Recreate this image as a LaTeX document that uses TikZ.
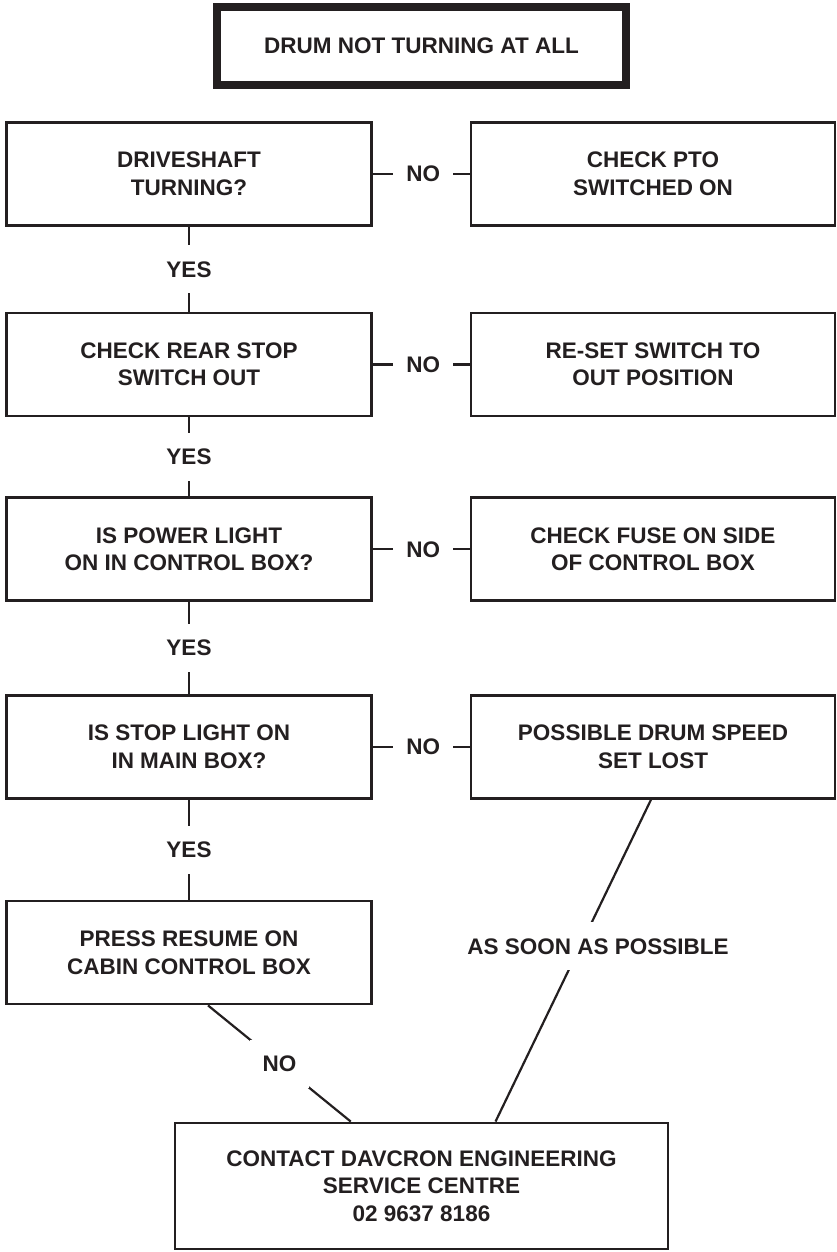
\documentclass[tikz,border=0pt]{standalone}
\usepackage{fontspec}
\setmainfont{Liberation Sans}
\usetikzlibrary{calc}
\definecolor{ink}{RGB}{35,31,32}
\begin{document}
\begin{tikzpicture}[x=1pt,y=-1pt,
  txt/.style={font=\bfseries\fontsize{22.5}{27.5}\selectfont, text=ink},
  box/.style={txt, draw=ink, line width=2.8pt, align=center, inner sep=0pt},
  lbox/.style={box, minimum width=365pt, minimum height=103pt},
  rbox/.style={box, minimum width=364pt, minimum height=103pt},
  lab/.style={txt, fill=white, inner xsep=13pt, inner ysep=16pt, text height=16pt, text depth=0pt},
  conn/.style={draw=ink, line width=2.2pt}]
\useasboundingbox (0,0) rectangle (837,1252);
% title
\node[box, line width=8pt, minimum width=409pt, minimum height=78pt] (top) at (421.5,45.7) {DRUM NOT TURNING AT ALL};
% left column
\node[lbox] (b1) at (189,174) {DRIVESHAFT\\TURNING?};
\node[lbox] (b2) at (189,364.5) {CHECK REAR STOP\\SWITCH OUT};
\node[lbox] (b3) at (189,549) {IS POWER LIGHT\\ON IN CONTROL BOX?};
\node[lbox] (b4) at (189,746.75) {IS STOP LIGHT ON\\IN MAIN BOX?};
\node[lbox] (b5) at (189,952.5) {PRESS RESUME ON\\CABIN CONTROL BOX};
% right column
\node[rbox] (r1) at (653,174) {CHECK PTO\\SWITCHED ON};
\node[rbox] (r2) at (653,364.5) {RE-SET SWITCH TO\\OUT POSITION};
\node[rbox] (r3) at (653,549) {CHECK FUSE ON SIDE\\OF CONTROL BOX};
\node[rbox] (r4) at (653,746.75) {POSSIBLE DRUM SPEED\\SET LOST};
% bottom
\node[box, minimum width=493pt, minimum height=126pt] (bot) at (421.5,1186) {CONTACT DAVCRON ENGINEERING\\SERVICE CENTRE\\02 9637 8186};
% NO connectors
\draw[conn] (b1.east) -- (r1.west) node[lab, pos=0.52] {NO};
\draw[conn] (b2.east) -- (r2.west) node[lab, pos=0.52] {NO};
\draw[conn] (b3.east) -- (r3.west) node[lab, pos=0.52] {NO};
\draw[conn] (b4.east) -- (r4.west) node[lab, pos=0.52] {NO};
% YES connectors
\draw[conn] (b1.south) -- (b2.north) node[lab, midway] {YES};
\draw[conn] (b2.south) -- (b3.north) node[lab, midway] {YES};
\draw[conn] (b3.south) -- (b4.north) node[lab, midway] {YES};
\draw[conn] (b4.south) -- (b5.north) node[lab, midway] {YES};
% diagonals to bottom
\draw[conn] ($(b5.south)+(19,0)$) -- ($(bot.north)+(-70.7,0)$) node[lab, midway] {NO};
\draw[conn] ($(r4.south)+(-2,0)$) -- ($(bot.north)+(74,0)$);
\node[lab] (asap) at (598,946) {AS SOON AS POSSIBLE};
\end{tikzpicture}
\end{document}
